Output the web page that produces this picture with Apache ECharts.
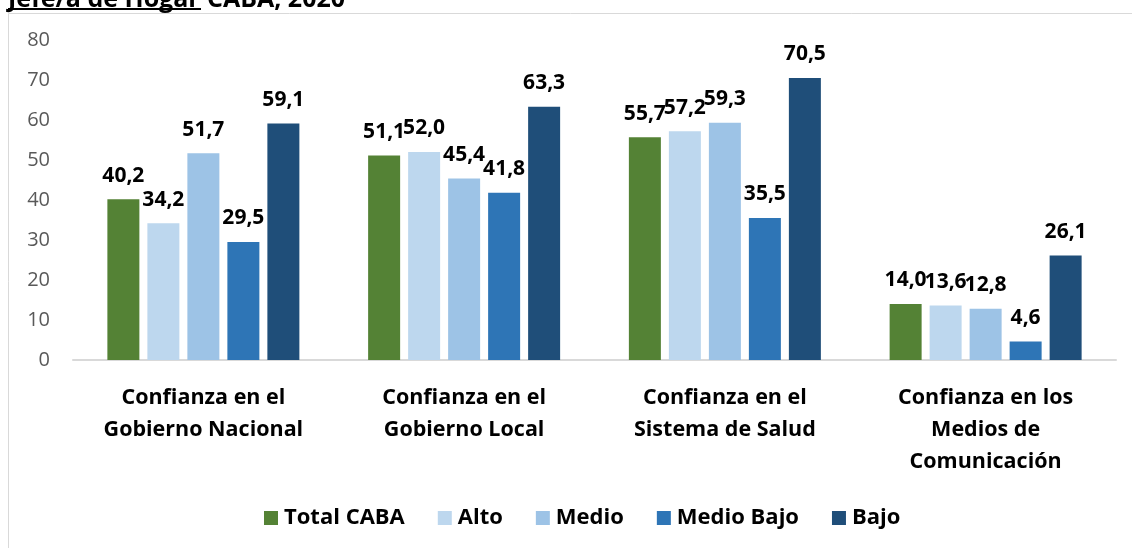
<!DOCTYPE html>
<html><head><meta charset="utf-8">
<script src="https://cdn.jsdelivr.net/npm/echarts@6/dist/echarts.min.js"></script>
<style>html,body{margin:0;padding:0;background:#fff}#c{width:1132px;height:548px}</style>
</head><body><div id="c"></div>
<script>
const categories = ['Confianza en el\nGobierno Nacional','Confianza en el\nGobierno Local','Confianza en el\nSistema de Salud','Confianza en los\nMedios de\nComunicación'];
const seriesNames = ['Total CABA','Alto','Medio','Medio Bajo','Bajo'];
const totalCaba = [40.2, 51.1, 55.7, 14.0];
const alto = [34.2, 52.0, 57.2, 13.6];
const medio = [51.7, 45.4, 59.3, 12.8];
const medioBajo = [29.5, 41.8, 35.5, 4.6];
const bajo = [59.1, 63.3, 70.5, 26.1];
const yTicks = [0,10,20,30,40,50,60,70,80];
const colors = ['#548235','#BDD7EE','#9DC3E6','#2E75B6','#1F4E79'];
const values = [totalCaba, alto, medio, medioBajo, bajo];
const FONT = 'Open Sans';

const chart = echarts.init(document.getElementById('c'));
chart.setOption({
  animation: false,
  textStyle: {fontFamily: FONT},
  graphic: [
    {type:'rect', shape:{x:8.5,y:13.5,width:1140,height:560}, style:{fill:'none',stroke:'#d9d9d9',lineWidth:1}, z:-1},
    {type:'text', x: 8, y: 12, style:{text:'Jefe/a de Hogar', font:'bold 25px "Open Sans"', fill:'#000', verticalAlign:'bottom'}},
    {type:'rect', shape:{x:8,y:8,width:193,height:2}, style:{fill:'#000'}},
    {type:'text', x: 207, y: 12, style:{text:'CABA, 2020 ¹', font:'bold 25px "Open Sans"', fill:'#000', verticalAlign:'bottom'}}
  ],
  legend: {
    data: seriesNames, bottom: 14, left: 259, itemWidth: 14, itemHeight: 14, itemGap: 33,
    icon: 'rect',
    textStyle: {fontSize: 22, fontWeight: 'bold', color: '#000', fontFamily: FONT, padding:[0,0,0,1]}
  },
  grid: {left: 73, right: 16, top: 40, bottom: 188, containLabel: false},
  xAxis: {
    type: 'category', data: categories,
    axisLine: {lineStyle: {color: '#d9d9d9', width: 2}},
    axisTick: {show: false},
    axisLabel: {fontSize: 21.5, fontWeight: 'bold', color: '#000', lineHeight: 32, margin: 22, interval: 0, fontFamily: FONT}
  },
  yAxis: {
    type: 'value', min: 0, max: 80, interval: 10,
    axisLine: {show: false}, axisTick: {show: false}, splitLine: {show: false},
    axisLabel: {fontSize: 20, color: '#595959', margin: 23, fontFamily: FONT,
      formatter: v => yTicks.includes(v) ? String(v) : ''}
  },
  series: seriesNames.map((n,i) => ({
    name: n, type: 'bar', data: values[i], barWidth: 32, barGap: '25%',
    itemStyle: {color: colors[i]},
    label: {show: true, position: 'top', distance: 13, fontSize: 21, fontWeight: 'bold', color: '#000', fontFamily: FONT,
      formatter: p => p.value.toFixed(1).replace('.', ',')}
  }))
});
</script></body></html>
